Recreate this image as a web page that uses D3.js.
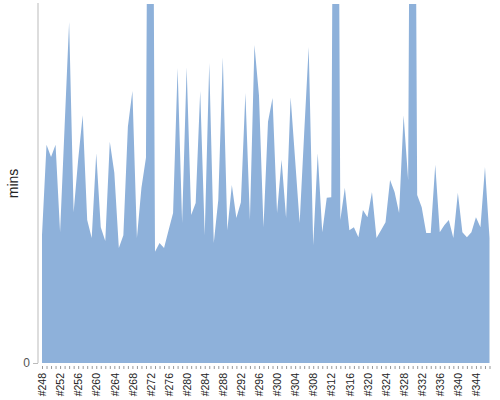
<!DOCTYPE html>
<html>
<head>
<meta charset="utf-8">
<script src="https://cdn.jsdelivr.net/npm/d3@7"></script>
<style>
  body { margin: 0; background: #fff; }
  svg { font-family: "Liberation Sans", Arial, sans-serif; }
</style>
</head>
<body>
<div id="chart"></div>
<script>
// build numbers #248 .. #347
var builds = d3.range(248, 348).map(function(n) { return "#" + n; });

// build duration in minutes (three runs go far off the top of the chart)
var mins = [
  17.8, 30.4, 28.7, 30.4, 18.2, 32.9, 47.5, 21.0, 28.3, 34.5,
  19.9, 17.4, 29.2, 18.9, 17.0, 30.8, 26.5, 16.0, 17.8, 32.9,
  37.9, 17.4, 24.4, 28.6, 150,  15.5, 16.7, 16.0, 18.5, 20.9,
  41.1, 19.5, 41.2, 20.6, 22.3, 37.9, 17.8, 41.8, 16.7, 22.7,
  42.6, 18.5, 24.8, 20.2, 22.4, 37.6, 19.9, 44.3, 37.3, 18.9,
  33.6, 36.9, 20.9, 28.3, 20.2, 37.0, 28.3, 19.5, 32.0, 44.0,
  16.4, 29.2, 18.2, 23.0, 23.1, 150,  19.9, 24.4, 18.5, 18.9,
  17.5, 21.3, 20.3, 23.8, 17.4, 18.5, 19.6, 25.5, 23.8, 20.9,
  34.5, 25.5, 150,  23.4, 21.7, 18.1, 18.1, 27.6, 18.2, 19.2,
  19.9, 17.4, 23.7, 18.2, 17.5, 18.2, 20.3, 18.9, 27.3, 17.4
];

var yTicks = [0];

var width = 500, height = 400;
var margin = {top: 4, right: 10, bottom: 37, left: 42};

var svg = d3.select("#chart").append("svg")
    .attr("width", width)
    .attr("height", height);

var x = d3.scalePoint()
    .domain(builds)
    .range([margin.left, 489.5]);

var y = d3.scaleLinear()
    .domain([0, 50])
    .range([height - margin.bottom, margin.top]);

svg.append("clipPath").attr("id", "clip")
  .append("rect")
    .attr("x", margin.left)
    .attr("y", margin.top)
    .attr("width", 491 - margin.left)
    .attr("height", y(0) - margin.top);

var area = d3.area()
    .x(function(d, i) { return x(builds[i]); })
    .y0(y(0))
    .y1(function(d) { return y(d); });

svg.append("path")
    .datum(mins)
    .attr("clip-path", "url(#clip)")
    .attr("fill", "#8eb1da")
    .attr("d", area);

// y axis
var yAxis = svg.append("g")
    .attr("transform", "translate(38,0)")
    .call(d3.axisLeft(y).tickValues(yTicks).tickSize(5).tickPadding(3));
yAxis.select(".domain").attr("stroke", "#bbb").attr("d", "M0," + (margin.top - 1) + "V" + y(0));
yAxis.selectAll(".tick line").attr("stroke", "#bbb");
yAxis.selectAll(".tick text")
    .attr("fill", "#555")
    .style("font-size", "12px");

svg.append("text")
    .attr("transform", "translate(18," + (margin.top + y(0)) / 2 + ") rotate(-90)")
    .attr("text-anchor", "middle")
    .attr("fill", "#222")
    .style("font-size", "14px")
    .text("mins");

// x axis, label on every fourth build
var xAxis = svg.append("g")
    .attr("transform", "translate(0,366)")
    .call(d3.axisBottom(x).tickSize(3)
      .tickFormat(function(d, i) { return i % 4 === 0 ? d : ""; }));
xAxis.select(".domain").remove();
xAxis.selectAll(".tick line").attr("stroke", "#999");
xAxis.selectAll(".tick text")
    .attr("transform", "rotate(-90)")
    .attr("x", -7)
    .attr("y", 0)
    .attr("dy", ".35em")
    .attr("text-anchor", "end")
    .attr("fill", "#222")
    .style("font-size", "10.5px");
</script>
</body>
</html>
